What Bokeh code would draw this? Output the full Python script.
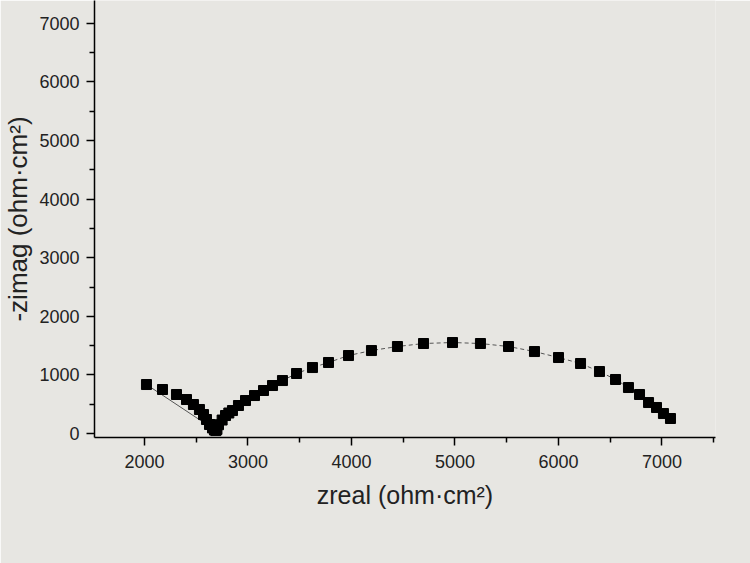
from bokeh.plotting import figure
from bokeh.models import Range1d, FixedTicker
from bokeh.embed import file_html
from bokeh.resources import INLINE

# Nyquist data (ohm·cm²)
zreal = [2019, 2174, 2309, 2406, 2473, 2531, 2570, 2599, 2628, 2657, 2676, 2690,
         2700, 2715, 2750, 2783, 2815, 2850, 2908, 2976, 3063, 3150, 3237, 3333,
         3469, 3623, 3778, 3971, 4193, 4444, 4696, 4976, 5246, 5517, 5768, 6000,
         6213, 6396, 6551, 6676, 6783, 6870, 6947, 7014, 7082]
zimag = [836, 751, 666, 580, 495, 410, 324, 239, 154, 95, 60, 50,
         70, 150, 230, 307, 350, 392, 478, 563, 648, 734, 819, 904,
         1024, 1126, 1212, 1331, 1416, 1485, 1536, 1553, 1536, 1485, 1399, 1297,
         1195, 1058, 922, 785, 666, 529, 444, 341, 256]

x_ticks = [2000, 3000, 4000, 5000, 6000, 7000]
y_ticks = [0, 1000, 2000, 3000, 4000, 5000, 6000, 7000]
x_title = "zreal (ohm·cm²)"
y_title = "-zimag (ohm·cm²)"

bg = "#e7e6e2"
p = figure(width=750, height=563, output_backend="svg", toolbar_location=None,
           x_range=Range1d(1517, 7517), y_range=Range1d(-68, 7390),
           min_border_left=94, min_border_right=35, min_border_top=0,
           min_border_bottom=126)
p.background_fill_color = bg
p.border_fill_color = bg
p.outline_line_color = None
p.xgrid.visible = False
p.ygrid.visible = False

# arc (dashed connection) from V bottom to the right end
vi = zimag.index(min(zimag))
p.line(zreal[vi:], zimag[vi:], line_color="#555555", line_width=1, line_dash="4 3")
# thin solid segment from first point to the V bottom
p.line([zreal[0], zreal[vi]], [zimag[0], zimag[vi]], line_color="#555555", line_width=1)
p.scatter(zreal, zimag, marker="square", size=10, fill_color="black", line_color="black")

for ax, ticks in ((p.xaxis[0], x_ticks), (p.yaxis[0], y_ticks)):
    minor = []
    for a, b in zip(ticks[:-1], ticks[1:]):
        minor.append((a + b) / 2)
    minor.append(ticks[-1] + (ticks[1] - ticks[0]) / 2)
    if ticks is x_ticks:
        minor.insert(0, ticks[0] - (ticks[1] - ticks[0]) / 2)
    ax.ticker = FixedTicker(ticks=ticks, minor_ticks=minor)
    ax.axis_line_color = "black"
    ax.axis_line_width = 1.5
    ax.major_tick_line_color = "black"
    ax.major_tick_line_width = 1.5
    ax.minor_tick_line_color = "black"
    ax.minor_tick_line_width = 1.5
    ax.major_tick_out = 8
    ax.major_tick_in = 0
    ax.minor_tick_out = 5
    ax.minor_tick_in = 0
    ax.major_label_text_font = "Liberation Sans"
    ax.major_label_text_font_size = "18px"
    ax.major_label_text_color = "#222222"
    ax.axis_label_text_font = "Liberation Sans"
    ax.axis_label_text_font_style = "normal"
    ax.axis_label_text_color = "#222222"

p.xaxis.axis_label = x_title
p.yaxis.axis_label = y_title
p.xaxis.axis_label_text_font_size = "25px"
p.yaxis.axis_label_text_font_size = "26px"
p.xaxis.major_label_standoff = 9
p.xaxis.axis_label_standoff = 10
p.yaxis.major_label_standoff = 7
p.yaxis.axis_label_standoff = 3

open("out.html", "w").write(file_html(p, INLINE))
